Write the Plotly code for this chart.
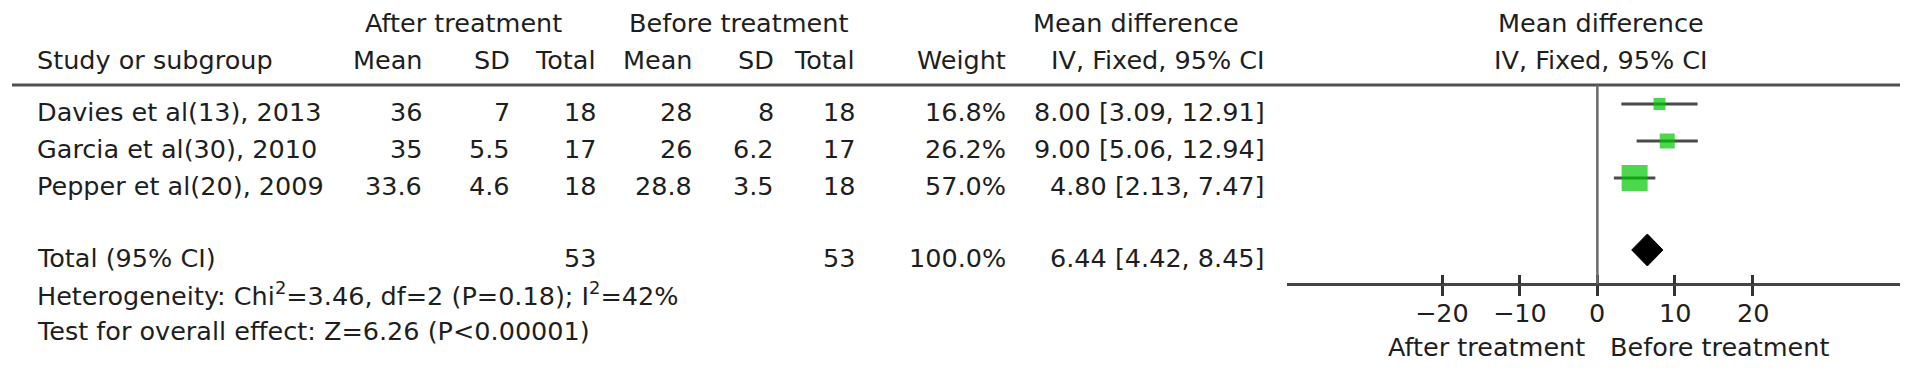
import plotly.graph_objects as go

# ---------------- data ----------------
studies = ["Davies et al(13), 2013", "Garcia et al(30), 2010", "Pepper et al(20), 2009"]
after_mean = [36, 35, 33.6]
after_sd = [7, 5.5, 4.6]
after_n = [18, 17, 18]
before_mean = [28, 26, 28.8]
before_sd = [8, 6.2, 3.5]
before_n = [18, 17, 18]
weight_pct = [16.8, 26.2, 57.0]
mean_diff = [8.00, 9.00, 4.80]
ci_low = [3.09, 5.06, 2.13]
ci_high = [12.91, 12.94, 7.47]

total_label = "Total (95% CI)"
total_after_n = 53
total_before_n = 53
total_weight = 100.0
total_md = 6.44
total_low = 4.42
total_high = 8.45

heterogeneity_text = "Heterogeneity: Chi<sup>2</sup>=3.46, df=2 (P=0.18); I<sup>2</sup>=42%"
overall_text = "Test for overall effect: Z=6.26 (P<0.00001)"

axis_ticks = [-20, -10, 0, 10, 20]
axis_range = [-40, 39]
favours_left = "After treatment"
favours_right = "Before treatment"

# ---------------- layout constants ----------------
W, H = 1913, 372
FONT = "DejaVu Sans"
FS = 25.5
TXT = "#1e1e1e"
LINE = "#4a4a4a"
GREEN = "#00c800"

Y_HEAD1, Y_HEAD2 = 23, 60
Y_RULE = 85
Y_ROW0, ROW_STEP = 112, 37
Y_TOTAL, Y_HET, Y_TEST = 258, 294, 331
MARK_OFFSET = -8
Y_AXIS = 284
Y_TICKLAB = 313
Y_FAV = 347
MARKER_PX = [12, 15, 26]
DIAMOND_HALF = 16

X_LABEL = 35
COL_RIGHT = {
    "am": 424, "asd": 512, "an": 598,
    "bm": 694, "bsd": 776, "bn": 857,
    "w": 1008, "ci": 1267,
}
AX_LEFT, AX_RIGHT = 1287, 1900


def px(x):
    return x / W


def fmt(v):
    return str(v)


ann = []


def text(x, y, s, anchor="right", xref="paper", xshift=0):
    ann.append(dict(x=px(x) if xref == "paper" else x, y=y, xref=xref, yref="y",
                    text=s, showarrow=False, xanchor=anchor, yanchor="middle", xshift=xshift,
                    font=dict(family=FONT, size=FS, color=TXT)))


# headers
text(463, Y_HEAD1, "After treatment", "center")
text(738, Y_HEAD1, "Before treatment", "center")
text(1136, Y_HEAD1, "Mean difference", "center")
text(X_LABEL, Y_HEAD2, "Study or subgroup", "left")
text(COL_RIGHT["am"], Y_HEAD2, "Mean")
text(COL_RIGHT["asd"], Y_HEAD2, "SD")
text(COL_RIGHT["an"], Y_HEAD2, "Total")
text(COL_RIGHT["bm"], Y_HEAD2, "Mean")
text(COL_RIGHT["bsd"], Y_HEAD2, "SD")
text(COL_RIGHT["bn"], Y_HEAD2, "Total")
text(COL_RIGHT["w"], Y_HEAD2, "Weight")
text(COL_RIGHT["ci"], Y_HEAD2, "IV, Fixed, 95% CI")
text(0, Y_HEAD1, "Mean difference", "center", xref="x", xshift=4)
text(0, Y_HEAD2, "IV, Fixed, 95% CI", "center", xref="x", xshift=4)

row_y = [Y_ROW0 + ROW_STEP * i for i in range(len(studies))]
for i, s in enumerate(studies):
    y = row_y[i]
    text(X_LABEL, y, s, "left")
    text(COL_RIGHT["am"], y, fmt(after_mean[i]))
    text(COL_RIGHT["asd"], y, fmt(after_sd[i]))
    text(COL_RIGHT["an"], y, fmt(after_n[i]))
    text(COL_RIGHT["bm"], y, fmt(before_mean[i]))
    text(COL_RIGHT["bsd"], y, fmt(before_sd[i]))
    text(COL_RIGHT["bn"], y, fmt(before_n[i]))
    text(COL_RIGHT["w"], y, f"{weight_pct[i]:.1f}%")
    text(COL_RIGHT["ci"], y, f"{mean_diff[i]:.2f} [{ci_low[i]:.2f}, {ci_high[i]:.2f}]")

text(X_LABEL, Y_TOTAL, total_label, "left")
text(COL_RIGHT["an"], Y_TOTAL, fmt(total_after_n))
text(COL_RIGHT["bn"], Y_TOTAL, fmt(total_before_n))
text(COL_RIGHT["w"], Y_TOTAL, f"{total_weight:.1f}%")
text(COL_RIGHT["ci"], Y_TOTAL, f"{total_md:.2f} [{total_low:.2f}, {total_high:.2f}]")
text(X_LABEL, Y_HET, heterogeneity_text, "left")
text(X_LABEL, Y_TEST, overall_text, "left")

# tick labels (drawn from the tick list, positioned by the x axis scale)
for t in axis_ticks:
    text(t, Y_TICKLAB, str(t).replace("-", "\u2212"), "center", xref="x")

# favours labels
text(0, Y_FAV, favours_left, "right", xref="x", xshift=-10)
text(0, Y_FAV, favours_right, "left", xref="x", xshift=11)

fig = go.Figure()

# CI lines
for i in range(len(studies)):
    y = row_y[i] + MARK_OFFSET
    fig.add_trace(go.Scatter(x=[ci_low[i], ci_high[i]], y=[y, y], mode="lines",
                             line=dict(color=LINE, width=3), hoverinfo="skip"))

# squares
fig.add_trace(go.Scatter(x=mean_diff, y=[y + MARK_OFFSET for y in row_y], mode="markers",
                         marker=dict(symbol="square", size=MARKER_PX, color=GREEN,
                                     line=dict(width=0))))

# diamond
yd = Y_TOTAL + MARK_OFFSET
fig.add_trace(go.Scatter(x=[total_low, total_md, total_high, total_md, total_low],
                         y=[yd, yd - DIAMOND_HALF, yd, yd + DIAMOND_HALF, yd],
                         mode="lines", fill="toself", fillcolor="black",
                         line=dict(color="black", width=1)))

# dummy trace for overlay axis (upper half of ticks)
fig.add_trace(go.Scatter(x=[0], y=[Y_AXIS], xaxis="x2", mode="markers",
                         marker=dict(size=0.1, opacity=0), hoverinfo="skip"))

shapes = [
    dict(type="line", xref="paper", yref="y", x0=px(12), x1=px(AX_RIGHT), y0=Y_RULE, y1=Y_RULE,
         line=dict(color="#505050", width=3)),
    dict(type="line", xref="x", yref="y", x0=0, x1=0, y0=Y_RULE, y1=Y_AXIS,
         line=dict(color="#6a6a6a", width=2.5)),
]

axis_pos = (H - Y_AXIS) / H
dom = [px(AX_LEFT), px(AX_RIGHT)]
fig.update_layout(
    width=W, height=H, margin=dict(l=0, r=0, t=0, b=0),
    paper_bgcolor="white", plot_bgcolor="white", showlegend=False,
    font=dict(family=FONT, size=FS, color=TXT),
    xaxis=dict(domain=dom, range=axis_range, anchor="free", position=axis_pos,
               showline=True, linecolor="#454545", linewidth=3,
               ticks="outside", ticklen=10, tickwidth=2.5, tickcolor="#333",
               tickvals=axis_ticks, showticklabels=False, showgrid=False, zeroline=False),
    xaxis2=dict(domain=dom, range=axis_range, overlaying="x", anchor="free", position=axis_pos,
                matches="x", showline=False, ticks="inside", ticklen=9, tickwidth=2.5,
                tickcolor="#333", tickvals=axis_ticks, showticklabels=False,
                showgrid=False, zeroline=False),
    yaxis=dict(domain=[0, 1], range=[H, 0], visible=False, showgrid=False, zeroline=False),
    annotations=ann, shapes=shapes,
)

fig.write_html("out.html", config={"displayModeBar": False},
               post_script="document.body.style.margin='0px';")
